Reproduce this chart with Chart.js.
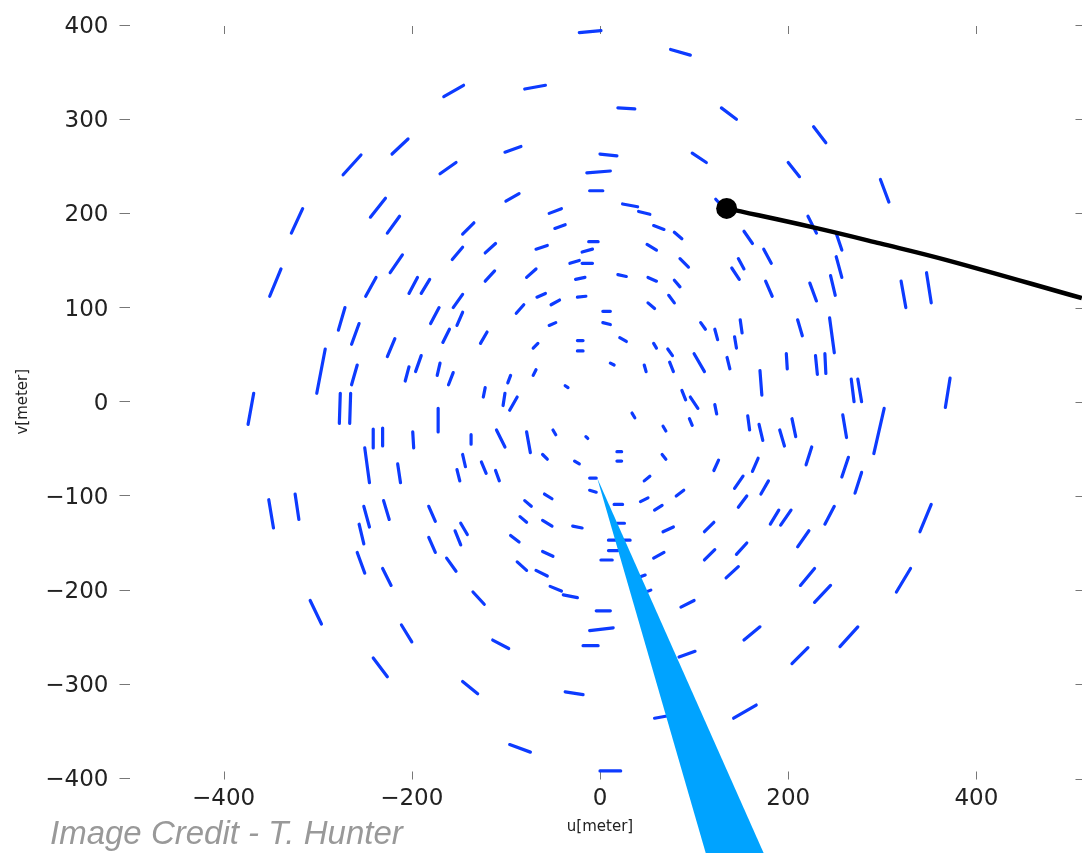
<!DOCTYPE html>
<html>
<head>
<meta charset="utf-8">
<title>uv coverage</title>
<script src="https://cdn.jsdelivr.net/npm/chart.js@4.4.1/dist/chart.umd.min.js"></script>
<style>
  html, body { margin: 0; padding: 0; background: #fff; }
  #wrap { position: relative; width: 1082px; height: 853px; overflow: hidden; }
  #credit {
    position: absolute; left: 50px; top: 816px;
    font: italic 33px/33px 'Liberation Sans', Arial, sans-serif;
    color: #999; white-space: nowrap;
  }
</style>
</head>
<body>
<div id="wrap">
  <canvas id="uv" width="1082" height="853"></canvas>
  <div id="credit">Image Credit - T. Hunter</div>
</div>
<script>
/* *****
datos: ejes y trazas uv (metros)
***** */

const uTicks = [-400, -200, 0, 200, 400];
const vTicks = [-400, -300, -200, -100, 0, 100, 200, 300, 400];

// cada traza es [u1, v1, u2, v2]
const tracksNW = [
    [-22, 392, 1, 394], [-166, 324, -145, 336], [-80, 332, -58, 336], [-221, 263, -204, 279],
    [-101, 265, -84, 271], [-273, 241, -254, 262], [-170, 242, -153, 254], [-14, 243, 11, 245],
    [-11, 224, 3, 224], [-100, 213, -86, 221], [-328, 179, -316, 205], [-244, 196, -228, 216],
    [-226, 179, -213, 197], [-54, 200, -41, 205], [-48, 184, -37, 188], [-146, 178, -134, 190],
    [-12, 170, -2, 170], [-351, 112, -339, 141], [-223, 137, -210, 156], [-157, 151, -146, 164],
    [-122, 158, -111, 168], [-68, 162, -56, 166], [-19, 159, -8, 162], [-32, 147, -22, 150],
    [-19, 147, -8, 147], [-249, 112, -238, 132], [-203, 115, -194, 132], [-190, 115, -181, 130],
    [-122, 128, -112, 139], [-78, 132, -68, 141], [-26, 130, -16, 132], [-156, 100, -146, 114],
    [-67, 111, -58, 115], [-52, 103, -43, 108], [-24, 111, -15, 112], [-278, 76, -271, 100],
    [-264, 61, -256, 83], [-180, 83, -171, 100], [-152, 81, -146, 95], [-89, 94, -81, 103],
    [-54, 81, -47, 84], [-226, 48, -218, 67], [-167, 63, -160, 77], [-127, 62, -120, 74],
    [-71, 57, -66, 62], [-24, 65, -18, 65], [-24, 54, -18, 54], [-301, 9, -292, 56],
    [-264, 18, -258, 39], [-207, 22, -203, 37], [-196, 32, -190, 49], [-173, 28, -170, 41],
    [-161, 18, -156, 31], [-71, 28, -68, 34], [-98, 20, -95, 28], [-37, 17, -34, 15],
    [-122, 15, -124, 5], [-101, 9, -103, -4], [-88, 5, -96, -9]
];
const tracksNE = [
    [0, 263, 18, 261], [75, 374, 96, 368], [19, 312, 37, 311], [129, 312, 145, 300],
    [227, 292, 240, 275], [98, 264, 113, 254], [200, 254, 212, 239], [298, 236, 307, 212],
    [24, 210, 40, 207], [41, 202, 53, 199], [123, 215, 135, 202], [57, 187, 68, 183],
    [79, 180, 87, 173], [153, 181, 162, 168], [221, 197, 230, 179], [251, 179, 257, 161],
    [50, 167, 60, 161], [85, 152, 94, 143], [147, 152, 153, 141], [140, 142, 148, 130],
    [174, 162, 182, 147], [251, 154, 257, 132], [245, 134, 250, 113], [19, 135, 28, 133],
    [51, 132, 60, 128], [79, 129, 85, 122], [176, 128, 183, 112], [223, 126, 230, 107],
    [320, 128, 325, 100], [347, 137, 352, 105], [73, 113, 79, 105], [51, 105, 58, 99],
    [3, 96, 11, 96], [3, 84, 11, 82], [21, 68, 28, 64], [107, 84, 112, 77],
    [122, 77, 125, 66], [149, 87, 151, 73], [210, 87, 215, 70], [244, 89, 249, 52],
    [143, 69, 145, 57], [57, 62, 60, 57], [72, 56, 77, 49], [74, 42, 78, 32],
    [100, 51, 111, 32], [135, 47, 138, 35], [198, 51, 199, 35], [229, 49, 231, 29],
    [239, 51, 240, 30], [11, 41, 15, 39], [47, 39, 49, 32], [170, 33, 172, 7],
    [267, 24, 270, 0], [274, 24, 278, 0], [372, 25, 367, -6], [87, 12, 91, 2],
    [96, 5, 104, -7]
];
const tracksSW = [
    [-368, 9, -374, -24], [-276, 9, -277, -23], [-265, 9, -266, -23], [-172, -7, -172, -32],
    [-241, -29, -241, -49], [-231, -28, -231, -47], [-199, -32, -198, -49], [-137, -35, -137, -45],
    [-110, -30, -101, -48], [-78, -32, -74, -54], [-50, -30, -47, -35], [-15, -37, -13, -39],
    [-250, -49, -245, -86], [-215, -66, -212, -86], [-146, -56, -143, -69], [-152, -72, -149, -84],
    [-126, -64, -121, -76], [-111, -73, -107, -84], [-61, -56, -56, -61], [-27, -63, -22, -66],
    [-11, -81, -4, -81], [-11, -94, -4, -96], [-352, -104, -347, -134], [-324, -98, -320, -125],
    [-251, -111, -245, -133], [-256, -130, -251, -151], [-258, -160, -250, -182], [-230, -105, -224, -125],
    [-231, -177, -222, -195], [-182, -111, -175, -127], [-182, -144, -175, -160], [-154, -137, -148, -152],
    [-148, -129, -141, -141], [-163, -166, -153, -180], [-135, -202, -123, -215], [-308, -211, -296, -236],
    [-211, -237, -200, -255], [-241, -272, -226, -292], [-114, -253, -97, -262], [-146, -297, -130, -310],
    [-96, -364, -74, -372], [-37, -308, -18, -311], [-95, -142, -86, -149], [-80, -105, -73, -111],
    [-59, -98, -51, -103], [-85, -122, -78, -128], [-61, -126, -51, -132], [-29, -132, -19, -134],
    [-88, -170, -78, -179], [-61, -159, -50, -164], [-68, -179, -56, -185], [-53, -196, -41, -201],
    [-39, -205, -24, -208], [-4, -222, 11, -222], [-11, -243, 14, -240], [-18, -259, -2, -259]
];
const tracksSE = [
    [34, -12, 37, -17], [67, -26, 70, -31], [95, -18, 98, -25], [122, -3, 124, -13],
    [157, -15, 159, -30], [169, -24, 173, -41], [191, -30, 196, -47], [204, -18, 208, -37],
    [258, -14, 262, -38], [291, -55, 302, -7], [18, -53, 23, -53], [18, -63, 23, -63],
    [66, -56, 70, -61], [47, -84, 53, -79], [121, -73, 126, -62], [162, -74, 168, -60],
    [219, -67, 225, -48], [257, -80, 264, -59], [271, -97, 278, -75], [143, -92, 152, -79],
    [171, -98, 179, -84], [43, -106, 51, -102], [81, -100, 89, -94], [58, -115, 66, -110],
    [147, -112, 156, -100], [15, -109, 24, -109], [18, -129, 26, -129], [9, -147, 32, -147],
    [9, -158, 19, -158], [1, -168, 13, -168], [67, -138, 78, -133], [57, -166, 68, -160],
    [111, -138, 121, -128], [111, -168, 122, -157], [145, -162, 156, -150], [181, -130, 190, -115],
    [192, -131, 203, -115], [239, -130, 249, -111], [210, -154, 222, -137], [340, -138, 352, -109],
    [134, -187, 147, -175], [37, -188, 48, -184], [41, -205, 54, -200], [213, -195, 228, -177],
    [228, -213, 245, -195], [315, -202, 330, -177], [86, -218, 100, -211], [153, -253, 170, -239],
    [84, -271, 101, -265], [204, -278, 221, -261], [255, -260, 274, -239], [58, -336, 80, -332],
    [142, -336, 166, -322], [0, -392, 22, -392]
];

// flecha negra (curva) y cuña celeste
const pointerU = [134.6, 226.7, 297.6, 368.4, 512];
const pointerV = [205.3, 185.1, 168.1, 150.4, 110];
const wedgeU = [-3, 112.6, 174.3];
const wedgeV = [-81, -480, -480];

const trackColor = '#0d3bff';
const wedgeColor = '#00a3ff';
const tickColor = '#777';
const textColor = '#222';

/* *****
helpers
***** */

// une todas las trazas en un solo path, con null entre ellas para cortar la linea
const toPath = (tracks) => {
    const pts = [];
    tracks.forEach(([u1, v1, u2, v2]) => {
        pts.push({ x: u1, y: v1 }, { x: u2, y: v2 }, { x: u2, y: null });
    });
    return pts;
}

const fmt = (value) => value < 0 ? '\u2212' + Math.abs(value) : String(value);

// ticks arriba / abajo (hacia adentro) y a la derecha
const frameTicks = {
    id: 'frameTicks',
    beforeDatasetsDraw(chart) {
        const { ctx, chartArea: a, scales: { x, y } } = chart;
        ctx.save();
        ctx.strokeStyle = tickColor;
        ctx.lineWidth = 1;
        ctx.beginPath();
        x.ticks.forEach((t) => {
            const px = Math.round(x.getPixelForValue(t.value)) + 0.5;
            ctx.moveTo(px, a.top + 1);
            ctx.lineTo(px, a.top + 9);
            ctx.moveTo(px, a.bottom - 7);
            ctx.lineTo(px, a.bottom + 1);
        });
        y.ticks.forEach((t) => {
            const py = Math.round(y.getPixelForValue(t.value)) + 0.5;
            ctx.moveTo(a.right + 5, py);
            ctx.lineTo(a.right + 14, py);
        });
        ctx.stroke();
        ctx.restore();
    }
};

// rellena la cuña usando los puntos que calcula chart.js (sin recortar al area)
const wedgeFill = {
    id: 'wedgeFill',
    afterDatasetsDraw(chart) {
        const idx = chart.data.datasets.findIndex((d) => d.label === 'wedge');
        const pts = chart.getDatasetMeta(idx).data;
        const ctx = chart.ctx;
        ctx.save();
        ctx.fillStyle = wedgeColor;
        ctx.beginPath();
        pts.forEach((p, i) => i ? ctx.lineTo(p.x, p.y) : ctx.moveTo(p.x, p.y));
        ctx.closePath();
        ctx.fill();
        ctx.restore();
    }
};

/* *****
grafico
***** */

Chart.defaults.font.family = "'DejaVu Sans', sans-serif";

const trackStyle = {
    showLine: true,
    borderColor: trackColor,
    borderWidth: 3.2,
    borderCapStyle: 'round',
    pointRadius: 0,
    spanGaps: false
};

new Chart(document.getElementById('uv'), {
    type: 'scatter',
    data: {
        datasets: [
            {
                label: 'pointer',
                data: pointerU.map((u, i) => ({ x: u, y: pointerV[i] })),
                showLine: true,
                borderColor: '#000',
                borderWidth: 4.5,
                tension: 0.4,
                pointRadius: pointerU.map((u, i) => i === 0 ? 10.5 : 0),
                pointBackgroundColor: '#000',
                pointBorderWidth: 0,
                clip: false
            },
            {
                label: 'wedge',
                data: wedgeU.map((u, i) => ({ x: u, y: wedgeV[i] })),
                showLine: false,
                pointRadius: 0,
                clip: false
            },
            { label: 'NW', data: toPath(tracksNW), ...trackStyle },
            { label: 'NE', data: toPath(tracksNE), ...trackStyle },
            { label: 'SW', data: toPath(tracksSW), ...trackStyle },
            { label: 'SE', data: toPath(tracksSE), ...trackStyle }
        ]
    },
    options: {
        responsive: false,
        animation: false,
        layout: { padding: { top: 25, right: 11.5, left: 0, bottom: 0 } },
        plugins: {
            legend: { display: false },
            tooltip: { enabled: false }
        },
        scales: {
            x: {
                type: 'linear',
                min: -500,
                max: 500,
                afterBuildTicks: (s) => { s.ticks = uTicks.map((value) => ({ value })); },
                afterFit: (s) => { s.height = 74.5; },
                border: { display: false },
                grid: { display: false, drawTicks: false },
                ticks: {
                    padding: 7,
                    color: textColor,
                    maxRotation: 0,
                    autoSkip: false,
                    font: { size: 23 },
                    callback: fmt
                },
                title: {
                    display: true,
                    text: 'u[meter]',
                    color: textColor,
                    font: { size: 15 },
                    padding: { top: 0, bottom: 17 }
                }
            },
            y: {
                type: 'linear',
                min: -400,
                max: 400,
                afterBuildTicks: (s) => { s.ticks = vTicks.map((value) => ({ value })); },
                afterFit: (s) => { s.width = 129.5; },
                border: { display: false },
                grid: { drawOnChartArea: false, drawTicks: true, tickLength: 10, color: tickColor },
                ticks: {
                    padding: 11,
                    labelOffset: 2,
                    color: textColor,
                    autoSkip: false,
                    font: { size: 23 },
                    callback: fmt
                },
                title: {
                    display: true,
                    text: 'v[meter]',
                    color: textColor,
                    font: { size: 15 },
                    padding: { top: 14, bottom: 0 }
                }
            }
        }
    },
    plugins: [frameTicks, wedgeFill]
});
</script>
</body>
</html>
